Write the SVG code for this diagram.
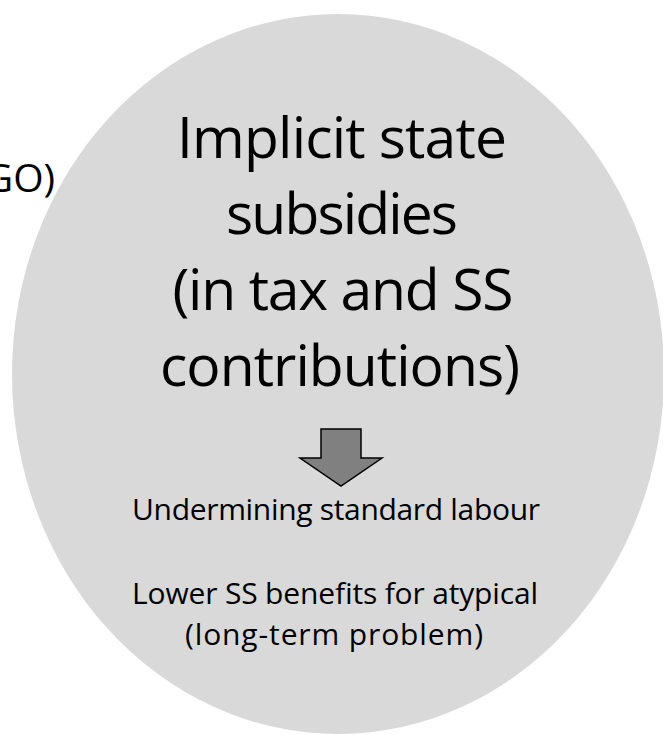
<svg xmlns="http://www.w3.org/2000/svg" width="663" height="735" viewBox="0 0 663 735">
  <style>
    .t { font-family: "Open Sans", "Liberation Sans", Arial, sans-serif; fill: #000000; }
    .big { font-size: 57px; text-anchor: middle; }
    .small { font-size: 30px; text-anchor: middle; }
    .blob { fill: #d9d9d9; stroke: none; }
    .blockarrow { fill: #808080; stroke: #000000; stroke-width: 1.5; stroke-linejoin: miter; }
  </style>
  <rect width="663" height="735" fill="#ffffff"/>
  <g id="left-node">
    <text class="t" x="55" y="192" font-size="39" text-anchor="end">GO)</text>
  </g>
  <g id="subsidies-node">
    <ellipse class="blob" cx="338" cy="374" rx="326" ry="360"/>
    <text class="t big" x="342" y="158" textLength="330">Implicit state</text>
    <text class="t big" x="342" y="234" textLength="232">subsidies</text>
    <text class="t big" x="343" y="310" textLength="341">(in tax and SS</text>
    <text class="t big" x="340" y="386" textLength="360">contributions)</text>
    <text class="t small" x="336" y="520" textLength="408">Undermining standard labour</text>
    <text class="t small" x="335" y="604" textLength="406">Lower SS benefits for atypical</text>
    <text class="t small" x="334" y="645" textLength="298">(long-term problem)</text>
  </g>
  <g id="connectors">
    <polygon class="blockarrow" points="321,429 361,429 361,458 382,458 341,486 300,458 321,458"/>
  </g>
</svg>
